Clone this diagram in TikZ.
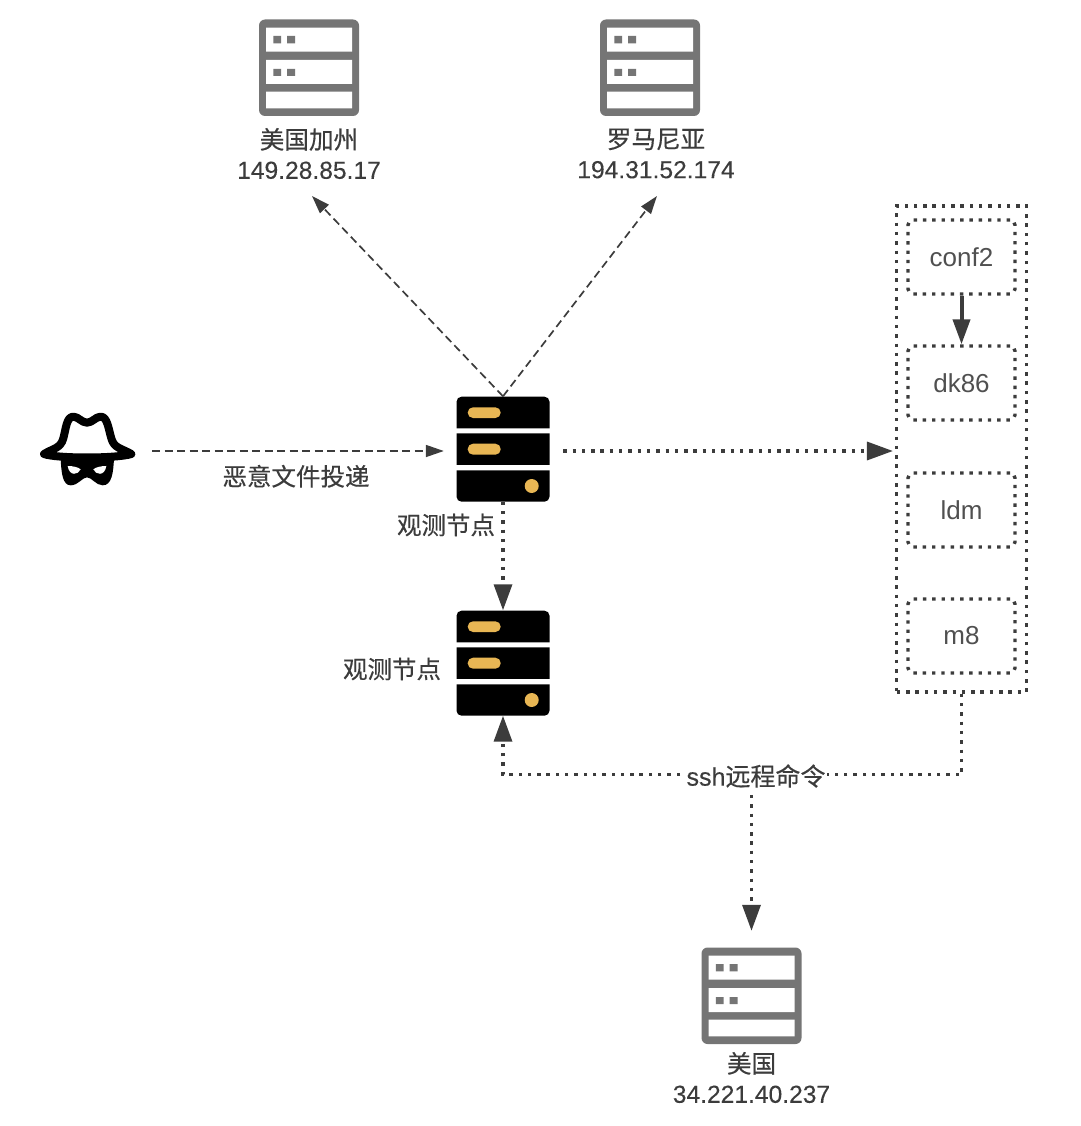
\documentclass[tikz,border=0pt]{standalone}
\usepackage{fontspec}
\setmainfont{Liberation Sans}
\newfontfamily\cjk[FakeBold=0.35]{Noto Sans CJK SC}
\newfontfamily\latn[FakeBold=0.25]{Liberation Sans}
\usetikzlibrary{arrows.meta,positioning}
\definecolor{inkc}{HTML}{3C3C3C}
\definecolor{srvgray}{HTML}{757575}
\definecolor{pillc}{HTML}{E8B654}
\tikzset{
  lbl/.style={text=inkc,inner sep=0pt,align=center,font=\latn\fontsize{24.6}{30}\selectfont},
  srvnode/.style={inner sep=0pt,minimum width=94pt,minimum height=105pt},
  grynode/.style={inner sep=0pt,minimum width=100pt,minimum height=96pt},
  dbox/.style={draw=inkc,line width=3.4pt,dash pattern=on 3.4pt off 5.9pt,rounded corners=5pt,
    minimum width=107pt,minimum height=74pt,inner sep=0pt,text=inkc!90,
    font=\fontsize{26}{28}\selectfont},
  dsh/.style={draw=inkc,line width=1.7pt,dash pattern=on 8pt off 4.5pt,
    -{Triangle[length=18pt,width=12pt]}},
  dtd/.style={draw=inkc,line width=3.4pt,dash pattern=on 3.4pt off 5.9pt,
    -{Triangle[length=26pt,width=18pt,sep=0pt]}},
  graysrv/.pic={
    \fill[srvgray,rounded corners=6pt] (-50,-48.5) rectangle (50,48);
    \fill[white] (-43,-40.3) rectangle (43,-16.3) (-43,-8) rectangle (43,16)
      (-43,23.7) rectangle (43,40.3);
    \fill[srvgray] (-35.7,-32) rectangle (-28,-24.7) (-22,-32) rectangle (-14,-24.7)
      (-35.7,1) rectangle (-28,8) (-22,1) rectangle (-14,8);
  },
  blacksrv/.pic={
    \fill[black,rounded corners=5pt] (-46.5,-52.3) rectangle (46.5,52.7);
    \fill[white] (-47,-20.7) rectangle (47,-15.7) (-47,16) rectangle (47,21.3);
    \fill[pillc,rounded corners=5.3pt] (-35.3,-41.7) rectangle (-2.3,-31)
      (-35.3,-5.3) rectangle (-2.3,5.7);
    \fill[pillc] (28.7,37) circle (7);
  },
}
\begin{document}
\begin{tikzpicture}[x=1pt,y=-1pt]
  \useasboundingbox (0,0) rectangle (1080,1126);
  % servers
  \node[grynode] (usca) at (309,68) {};
  \pic at (usca) {graysrv};
  \node[grynode] (roma) at (650,68) {};
  \pic at (roma) {graysrv};
  \node[grynode] (usa) at (751.5,996) {};
  \pic at (usa) {graysrv};
  \node[srvnode] (obsa) at (503,449) {};
  \pic at (obsa) {blacksrv};
  \node[srvnode] (obsb) at (503,663) {};
  \pic at (obsb) {blacksrv};
  \node[lbl] (uscat) at (309,153.5) {{\cjk 美国加州}\\149.28.85.17};
  \node[lbl] (romat) at (656,153.5) {{\cjk 罗马尼亚}\\194.31.52.174};
  \node[lbl] (usat) at (751.5,1077.5) {{\cjk 美国}\\34.221.40.237};
  \node[lbl,font=\cjk\fontsize{24.5}{30}\selectfont] (obsat) at (446,525) {观测节点};
  \node[lbl,font=\cjk\fontsize{24.5}{30}\selectfont] (obsbt) at (392,669) {观测节点};
  % attacker
  \node[inner sep=0pt,minimum width=96pt,minimum height=76pt] (hat) at (88,451) {};
  \begin{scope}[shift={(20,380)},x=0.3333pt,y=-0.3333pt]
    \draw[black,line width=8pt,line join=round,fill=white]
      (72,222) .. controls (100,205) and (122,205) .. (130,175)
      .. controls (138,145) and (140,110) .. (160,110)
      .. controls (175,110) and (185,128) .. (201,128)
      .. controls (217,128) and (227,110) .. (242,110)
      .. controls (262,110) and (265,145) .. (274,175)
      .. controls (282,205) and (305,205) .. (334,222)
      .. controls (290,236) and (110,236) .. cycle;
    \fill[black] (122,235) -- (282,235) .. controls (280,280) and (275,316) .. (248,316)
      .. controls (228,316) and (215,292) .. (201,292)
      .. controls (187,292) and (175,316) .. (152,316)
      .. controls (128,316) and (124,280) .. cycle;
    \fill[white] (143,258) .. controls (160,258) and (175,262) .. (182,268)
      .. controls (175,285) and (148,290) .. cycle;
    \fill[white] (259,258) .. controls (242,258) and (227,262) .. (220,268)
      .. controls (227,285) and (254,290) .. cycle;
  \end{scope}
  % files
  \node[draw=inkc,line width=3.5pt,dash pattern=on 3.5pt off 5.8pt,minimum width=130pt,
    minimum height=486pt,inner sep=0pt] (files) at (961.7,449) {};
  \node[dbox] (conf) at (961.5,257) {conf2};
  \node[dbox] (dk) at (961.5,383) {dk86};
  \node[dbox] (ldm) at (961.5,510) {ldm};
  \node[dbox] (meight) at (961.5,636) {\raisebox{-4pt}{m8}};
  \draw[draw=inkc,line width=4pt,-{Triangle[length=25pt,width=17pt]}] (conf) -- (dk);
  % connectors
  \draw[dsh] (obsa.north) -- (312,196);
  \draw[dsh] (obsa.north) -- (657,196);
  \draw[dsh,shorten <=16pt,shorten >=12pt] (hat.east) -- (hat.east -| obsa.west)
    node[midway,below=13pt,lbl,font=\cjk\fontsize{24.5}{30}\selectfont] (dropt) {恶意文件投递};
  \draw[dtd,shorten <=13pt,shorten >=2pt] (obsa.east |- hat) -- (files.west |- hat);
  \draw[dtd] (obsa.south) -- (obsb.north);
  \draw[dtd] (files.south) -- ++(0,81) coordinate (jct) -| (obsb.south);
  \node[lbl,fill=white,inner xsep=2pt,inner ysep=1pt,font=\latn\fontsize{25}{28}\selectfont] (ssh)
    at (756,776) {ssh{\cjk 远程命令}};
  \coordinate (sshdown) at (ssh.south -| usa);
  \draw[dtd,shorten <=6pt,shorten >=17pt] (sshdown) -- (usa.north);
\end{tikzpicture}
\end{document}
